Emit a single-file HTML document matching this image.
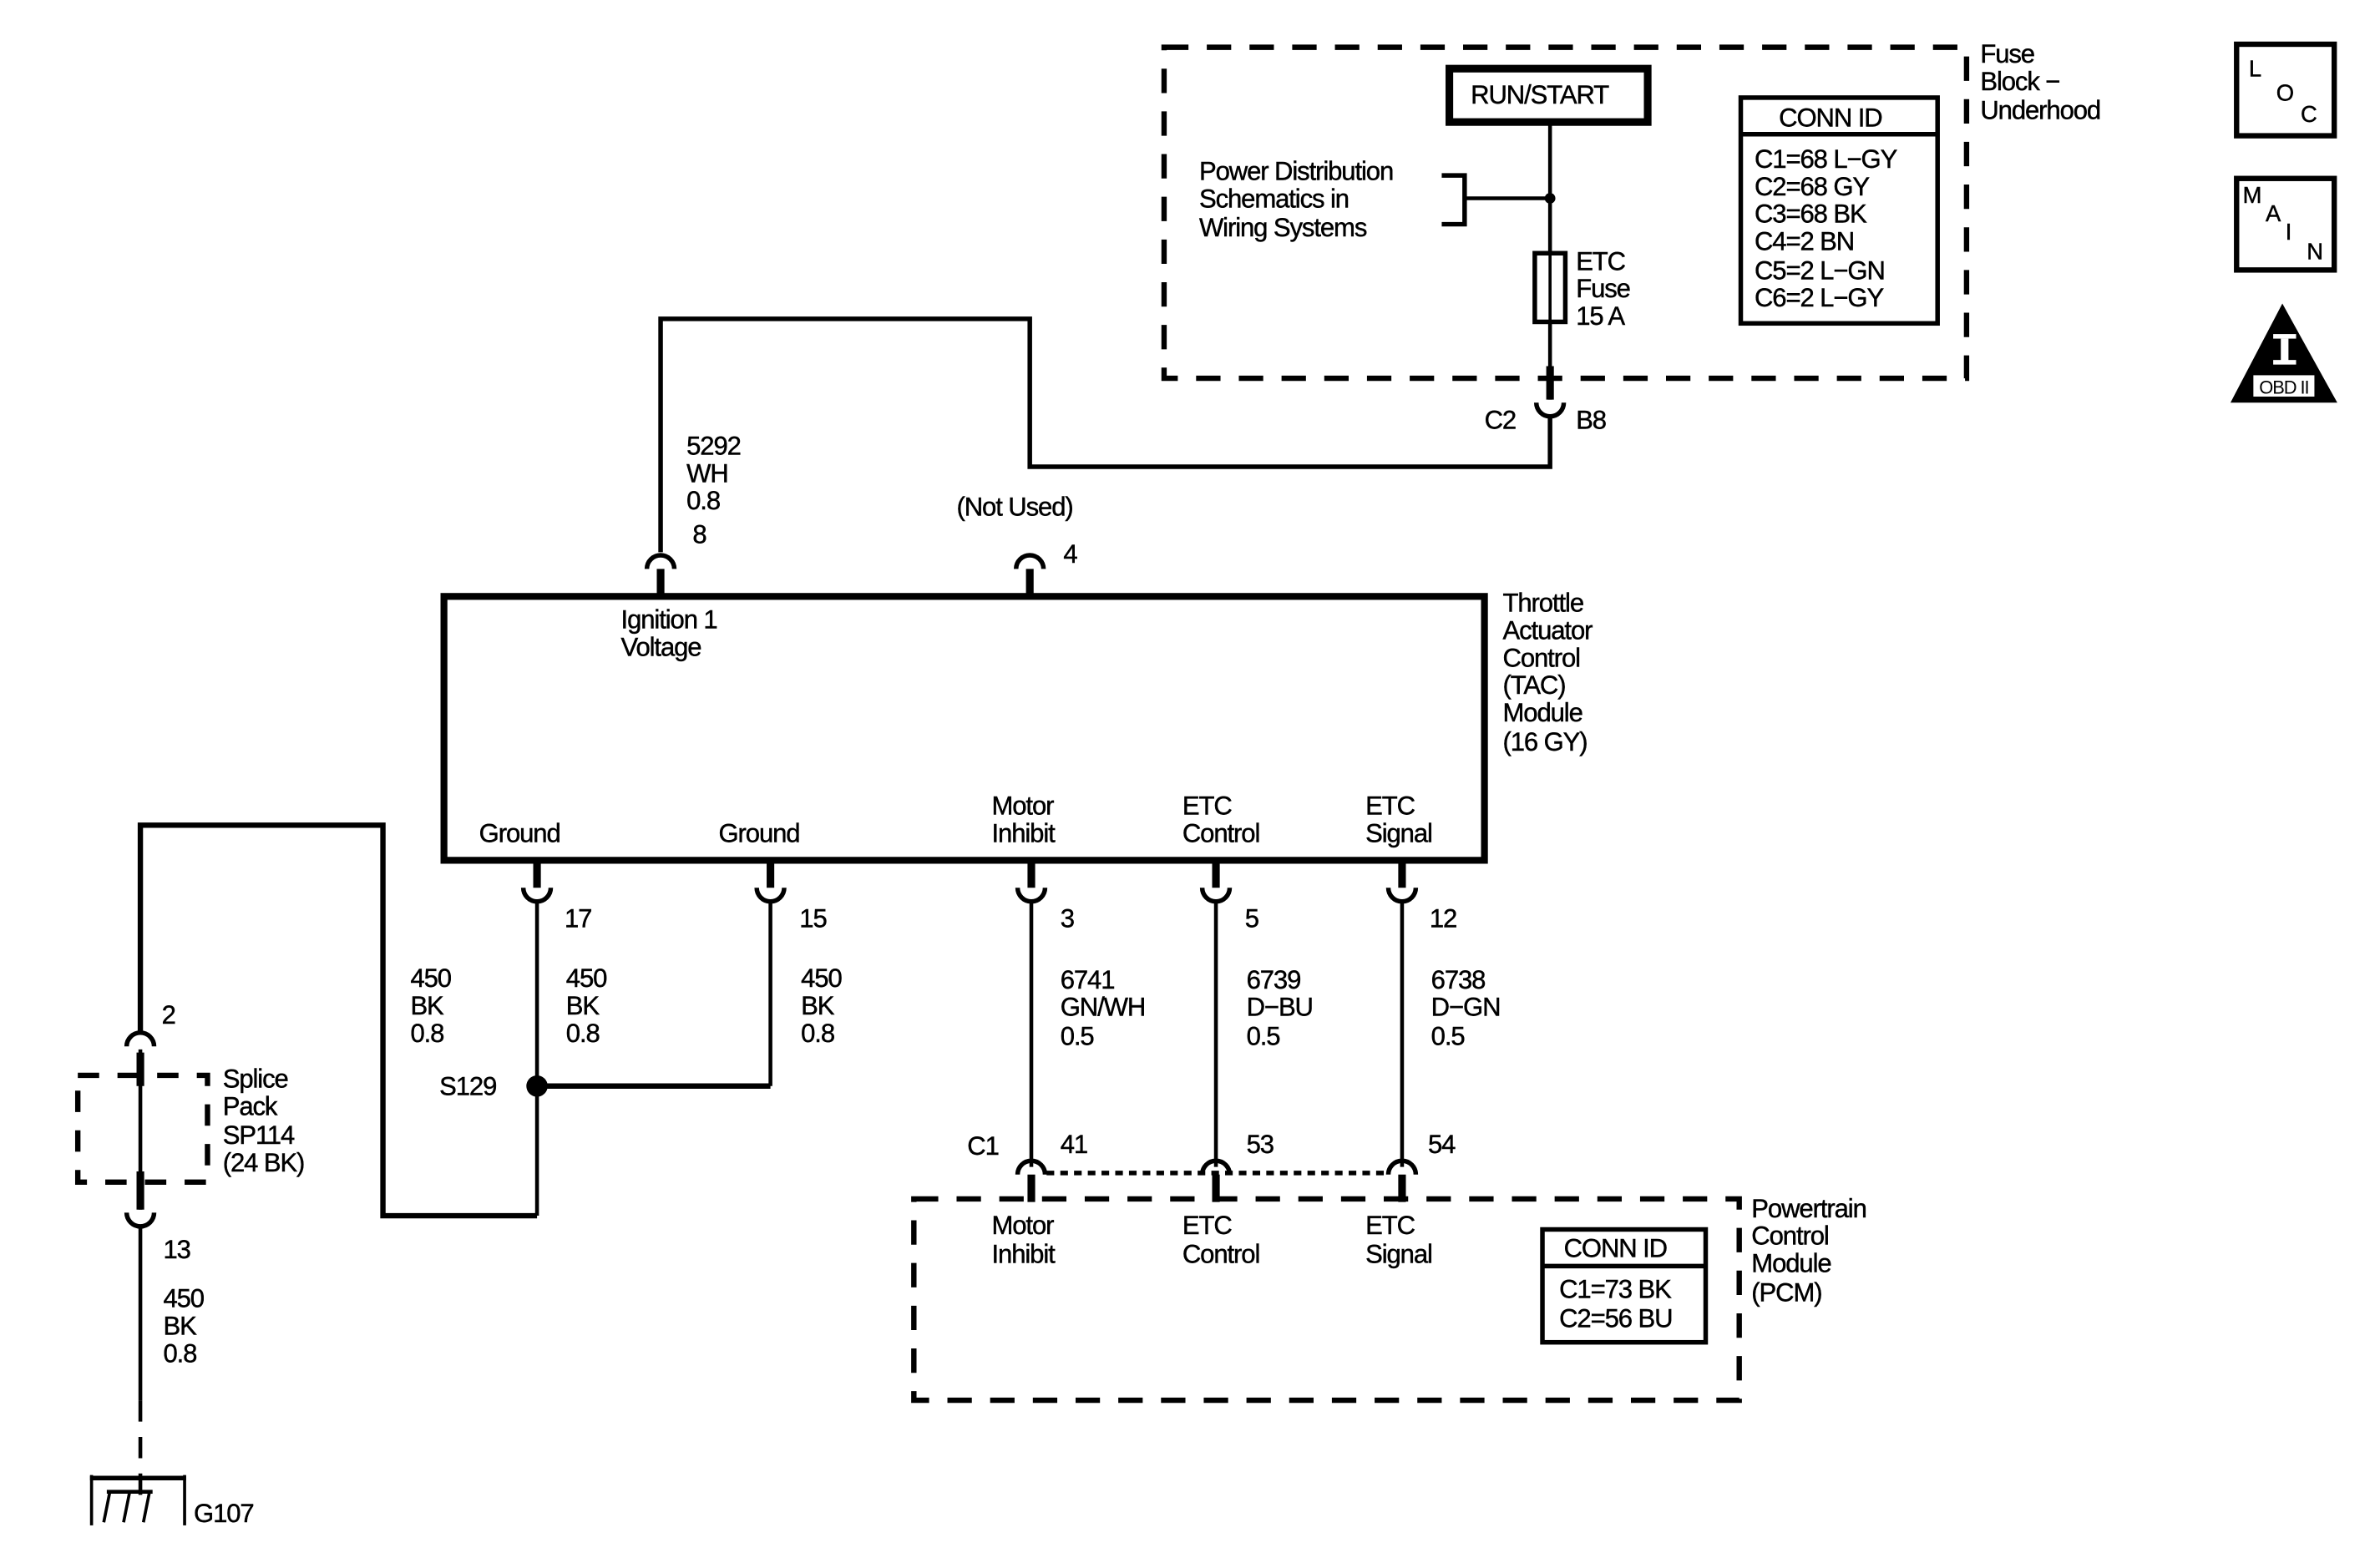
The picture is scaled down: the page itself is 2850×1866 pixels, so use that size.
<!DOCTYPE html>
<html><head><meta charset="utf-8"><style>
html,body{margin:0;padding:0;background:#fff;}
svg{display:block;}
text{font-family:"Liberation Sans",Arial,sans-serif;font-size:17px;fill:#000;letter-spacing:-0.6px;stroke:#000;stroke-width:0.25px;}
</style></head><body>
<svg width="2850" height="1866" viewBox="0 0 1560 1021.4" preserveAspectRatio="none" xmlns="http://www.w3.org/2000/svg">
<rect x="0" y="0" width="1560" height="1022" fill="#fff"/>
<g fill="none" stroke="#000">
<rect x="763" y="31" width="526" height="217" stroke-width="3.5" stroke-dasharray="16,12"/>
<rect x="950" y="45" width="130" height="35" stroke-width="5"/>
<line x1="1016" y1="82" x2="1016" y2="165" stroke-width="2.5"/>
<line x1="1016" y1="212" x2="1016" y2="262" stroke-width="2.5"/>
<line x1="1016" y1="240" x2="1016" y2="262" stroke-width="5"/>
<polyline points="945,115 960,115 960,147 945,147" stroke-width="3"/>
<line x1="960" y1="130" x2="1016" y2="130" stroke-width="2.5"/>
<rect x="1006" y="166" width="20" height="45" stroke-width="3"/>
<line x1="1016" y1="166" x2="1016" y2="211" stroke-width="2"/>
<path d="M1007,264 A9,9 0 0 0 1025,264" stroke-width="3"/>
<polyline points="1016,272 1016,306 675,306 675,209 433,209 433,362" stroke-width="3"/>
<rect x="1141" y="64" width="129" height="148" stroke-width="3"/>
<line x1="1141" y1="88" x2="1270" y2="88" stroke-width="3"/>
<rect x="1466" y="29" width="64" height="60" stroke-width="3.5"/>
<rect x="1466" y="117" width="64" height="60" stroke-width="3.5"/>
<rect x="291" y="391" width="682" height="173" stroke-width="4.5"/>
<path d="M424,373 A9,9 0 0 1 442,373" stroke-width="3"/>
<line x1="433" y1="373" x2="433" y2="391" stroke-width="5"/>
<path d="M666,373 A9,9 0 0 1 684,373" stroke-width="3"/>
<line x1="675" y1="373" x2="675" y2="391" stroke-width="5"/>
<g stroke-width="5">
<line x1="352" y1="564" x2="352" y2="582"/><line x1="505" y1="564" x2="505" y2="582"/><line x1="676" y1="564" x2="676" y2="582"/><line x1="797" y1="564" x2="797" y2="582"/><line x1="919" y1="564" x2="919" y2="582"/>
</g>
<g stroke-width="3">
<path d="M343,582 A9,9 0 0 0 361,582"/><path d="M496,582 A9,9 0 0 0 514,582"/><path d="M667,582 A9,9 0 0 0 685,582"/><path d="M788,582 A9,9 0 0 0 806,582"/><path d="M910,582 A9,9 0 0 0 928,582"/>
</g>
<g stroke-width="2.5">
<line x1="352" y1="591" x2="352" y2="797"/>
<line x1="505" y1="591" x2="505" y2="712"/>
<line x1="676" y1="591" x2="676" y2="765"/>
<line x1="797" y1="591" x2="797" y2="765"/>
<line x1="919" y1="591" x2="919" y2="765"/>
</g>
<line x1="352" y1="712" x2="505" y2="712" stroke-width="3.5"/>
<polyline points="352,797 251,797 251,541 92,541 92,678" stroke-width="3.5"/>
<rect x="51" y="705" width="85" height="70" stroke-width="3.5" stroke-dasharray="14,12"/>
<path d="M83,686 A9,9 0 0 1 101,686" stroke-width="3"/>
<line x1="92" y1="688" x2="92" y2="793" stroke-width="2.5"/>
<line x1="92" y1="690" x2="92" y2="712" stroke-width="5"/>
<line x1="92" y1="768" x2="92" y2="793" stroke-width="5"/>
<path d="M83,795 A9,9 0 0 0 101,795" stroke-width="3"/>
<line x1="92" y1="804" x2="92" y2="918" stroke-width="2.5"/>
<line x1="92" y1="918" x2="92" y2="990" stroke-width="2.5" stroke-dasharray="14,10"/>
<line x1="59" y1="969" x2="122" y2="969" stroke-width="3"/>
<line x1="60" y1="967" x2="60" y2="1000" stroke-width="2"/>
<line x1="121" y1="967" x2="121" y2="1000" stroke-width="2"/>
<line x1="70" y1="978" x2="100" y2="978" stroke-width="2.5"/>
<line x1="72" y1="978" x2="68" y2="998" stroke-width="2"/>
<line x1="85" y1="978" x2="81" y2="998" stroke-width="2"/>
<line x1="98" y1="978" x2="94" y2="998" stroke-width="2"/>
<g stroke-width="3">
<path d="M667,770 A9,9 0 0 1 685,770"/><path d="M788,770 A9,9 0 0 1 806,770"/><path d="M910,770 A9,9 0 0 1 928,770"/>
</g>
<g stroke-width="5">
<line x1="676" y1="770" x2="676" y2="788"/><line x1="797" y1="770" x2="797" y2="788"/><line x1="919" y1="770" x2="919" y2="788"/>
</g>
<line x1="686" y1="769" x2="910" y2="769" stroke-width="3" stroke-dasharray="5,4"/>
<rect x="599" y="786" width="541" height="132" stroke-width="3.5" stroke-dasharray="16,12"/>
<rect x="1011" y="806" width="107" height="74" stroke-width="3"/>
<line x1="1011" y1="830" x2="1118" y2="830" stroke-width="3"/>
</g>
<circle cx="1016" cy="130" r="3.5" fill="#000"/>
<circle cx="352" cy="712" r="7" fill="#000"/>
<polygon points="1496,199 1462,264 1532,264" fill="#000"/>
<rect x="1490" y="219" width="15" height="3" fill="#fff"/>
<rect x="1495" y="222" width="5" height="15" fill="#fff"/>
<rect x="1490" y="236" width="15" height="3" fill="#fff"/>
<rect x="1477" y="246" width="40" height="14" fill="#fff"/>
<text x="1497" y="258" text-anchor="middle" style="font-size:12px;stroke-width:0">OBD II</text>
<text x="964" y="68">RUN/START</text>
<text x="786" y="118">Power Distribution</text>
<text x="786" y="136">Schematics in</text>
<text x="786" y="155">Wiring Systems</text>
<text x="1033" y="177">ETC</text>
<text x="1033" y="195">Fuse</text>
<text x="1033" y="213">15 A</text>
<text x="973" y="281">C2</text>
<text x="1033" y="281">B8</text>
<text x="1166" y="83">CONN ID</text>
<text x="1150" y="110">C1=68 L−GY</text>
<text x="1150" y="128">C2=68 GY</text>
<text x="1150" y="146">C3=68 BK</text>
<text x="1150" y="164">C4=2 BN</text>
<text x="1150" y="183">C5=2 L−GN</text>
<text x="1150" y="201">C6=2 L−GY</text>
<text x="1298" y="41">Fuse</text>
<text x="1298" y="59">Block −</text>
<text x="1298" y="78">Underhood</text>
<text x="1474" y="50" style="font-size:15px">L</text>
<text x="1492" y="66" style="font-size:15px">O</text>
<text x="1508" y="80" style="font-size:15px">C</text>
<text x="1470" y="133" style="font-size:15px">M</text>
<text x="1485" y="145" style="font-size:15px">A</text>
<text x="1498" y="157" style="font-size:15px">I</text>
<text x="1512" y="170" style="font-size:15px">N</text>
<text x="450" y="298">5292</text>
<text x="450" y="316">WH</text>
<text x="450" y="334">0.8</text>
<text x="454" y="356">8</text>
<text x="627" y="338">(Not Used)</text>
<text x="697" y="369">4</text>
<text x="407" y="412">Ignition 1</text>
<text x="407" y="430">Voltage</text>
<text x="985" y="401">Throttle</text>
<text x="985" y="419">Actuator</text>
<text x="985" y="437">Control</text>
<text x="985" y="455">(TAC)</text>
<text x="985" y="473">Module</text>
<text x="985" y="492">(16 GY)</text>
<text x="314" y="552">Ground</text>
<text x="471" y="552">Ground</text>
<text x="650" y="534">Motor</text>
<text x="650" y="552">Inhibit</text>
<text x="775" y="534">ETC</text>
<text x="775" y="552">Control</text>
<text x="895" y="534">ETC</text>
<text x="895" y="552">Signal</text>
<text x="370" y="608">17</text>
<text x="524" y="608">15</text>
<text x="695" y="608">3</text>
<text x="816" y="608">5</text>
<text x="937" y="608">12</text>
<text x="269" y="647">450</text><text x="269" y="665">BK</text><text x="269" y="683">0.8</text>
<text x="371" y="647">450</text><text x="371" y="665">BK</text><text x="371" y="683">0.8</text>
<text x="525" y="647">450</text><text x="525" y="665">BK</text><text x="525" y="683">0.8</text>
<text x="695" y="648">6741</text><text x="695" y="666">GN/WH</text><text x="695" y="685">0.5</text>
<text x="817" y="648">6739</text><text x="817" y="666">D−BU</text><text x="817" y="685">0.5</text>
<text x="938" y="648">6738</text><text x="938" y="666">D−GN</text><text x="938" y="685">0.5</text>
<text x="288" y="718">S129</text>
<text x="106" y="671">2</text>
<text x="146" y="713">Splice</text>
<text x="146" y="731">Pack</text>
<text x="146" y="750">SP114</text>
<text x="146" y="768">(24 BK)</text>
<text x="107" y="825">13</text>
<text x="107" y="857">450</text>
<text x="107" y="875">BK</text>
<text x="107" y="893">0.8</text>
<text x="127" y="998">G107</text>
<text x="634" y="757">C1</text>
<text x="695" y="756">41</text>
<text x="817" y="756">53</text>
<text x="936" y="756">54</text>
<text x="650" y="809">Motor</text>
<text x="650" y="828">Inhibit</text>
<text x="775" y="809">ETC</text>
<text x="775" y="828">Control</text>
<text x="895" y="809">ETC</text>
<text x="895" y="828">Signal</text>
<text x="1025" y="824">CONN ID</text>
<text x="1022" y="851">C1=73 BK</text>
<text x="1022" y="870">C2=56 BU</text>
<text x="1148" y="798">Powertrain</text>
<text x="1148" y="816">Control</text>
<text x="1148" y="834">Module</text>
<text x="1148" y="853">(PCM)</text>
</svg>
</body></html>
